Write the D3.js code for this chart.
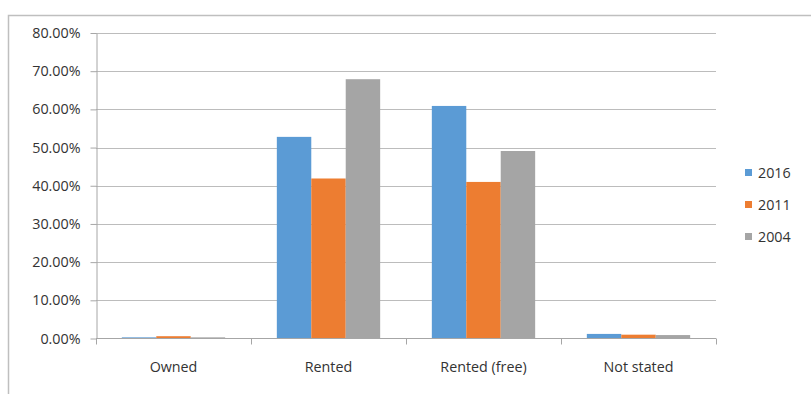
<!DOCTYPE html>
<html><head><meta charset="utf-8">
<script src="https://cdn.jsdelivr.net/npm/d3@7"></script>
<style>body{margin:0;background:#fff;} svg{display:block;}</style>
</head><body>
<svg id="c" width="811" height="394"></svg>
<script>
const categories = ["Owned", "Rented", "Rented (free)", "Not stated"];
const seriesNames = ["2016", "2011", "2004"];
const values2016 = [0.003, 0.528, 0.609, 0.012];
const values2011 = [0.006, 0.419, 0.410, 0.010];
const values2004 = [0.003, 0.679, 0.491, 0.009];
const colors = ["#5b9bd5", "#ed7d31", "#a5a5a5"];
const yTicks = [0, 0.1, 0.2, 0.3, 0.4, 0.5, 0.6, 0.7, 0.8];

(function () {
const series = [values2016, values2011, values2004];
const svg = d3.select("#c");
const font = "'Open Sans', sans-serif";
const fs = 14.3;
const tc = "#333333";

svg.append("path").attr("d", "M8.5,394 V15.5 H811")
  .attr("fill", "none").attr("stroke", "#bfbfbf").attr("stroke-width", 1.5);

const pLeft = 96, pRight = 716, pTop = 33, pBottom = 338.5;
const y = d3.scaleLinear().domain([0, 0.8]).range([pBottom, pTop]);
const x0 = d3.scaleBand().domain(categories).range([pLeft, pRight]).padding(0);
const x1 = d3.scaleBand().domain(seriesNames).range([0, x0.bandwidth()])
  .paddingInner(0).paddingOuter(0.75);

svg.append("g").selectAll("line").data(yTicks.filter(d => d > 0)).join("line")
  .attr("x1", pLeft).attr("x2", pRight)
  .attr("y1", d => Math.round(y(d)) + 0.5).attr("y2", d => Math.round(y(d)) + 0.5)
  .attr("stroke", "#bcbcbc").attr("stroke-width", 1);

const g = svg.append("g");
categories.forEach((c, i) => {
  series.forEach((vals, s) => {
    g.append("rect")
      .attr("x", x0(c) + x1(seriesNames[s]))
      .attr("width", x1.bandwidth())
      .attr("y", y(vals[i]))
      .attr("height", pBottom - y(vals[i]))
      .attr("fill", colors[s]);
  });
});

const yAxis = d3.axisLeft(y).tickValues(yTicks).tickFormat(d3.format(".2%"))
  .tickSizeInner(6).tickSizeOuter(0).tickPadding(10);
const ya = svg.append("g").attr("transform", `translate(${pLeft + 0.5},0)`).call(yAxis);
ya.select(".domain").attr("stroke", "#a6a6a6");
ya.selectAll(".tick line").attr("stroke", "#a6a6a6");
ya.selectAll("text").attr("font-family", font).attr("font-size", fs).attr("fill", tc);

const xa = svg.append("g").attr("transform", `translate(0,${pBottom})`);
xa.append("line").attr("x1", pLeft).attr("x2", pRight).attr("y1", 0).attr("y2", 0)
  .attr("stroke", "#a6a6a6");
const bounds = categories.map(c => x0(c)).concat([pRight]);
xa.selectAll("line.tk").data(bounds).join("line").attr("class", "tk")
  .attr("x1", d => Math.round(d) + 0.5).attr("x2", d => Math.round(d) + 0.5)
  .attr("y1", 0).attr("y2", 6).attr("stroke", "#a6a6a6");
xa.selectAll("text").data(categories).join("text")
  .attr("x", d => x0(d) + x0.bandwidth() / 2).attr("y", 33)
  .attr("text-anchor", "middle").attr("font-family", font).attr("font-size", fs)
  .attr("fill", tc).text(d => d);

const lg = svg.append("g");
seriesNames.forEach((n, i) => {
  const cy = 172.5 + i * 32;
  lg.append("rect").attr("x", 745).attr("y", cy - 3.5).attr("width", 7).attr("height", 7)
    .attr("fill", colors[i]);
  lg.append("text").attr("x", 758).attr("y", cy + 5).attr("font-family", font)
    .attr("font-size", fs).attr("fill", tc).text(n);
});
})();
</script>
</body></html>
